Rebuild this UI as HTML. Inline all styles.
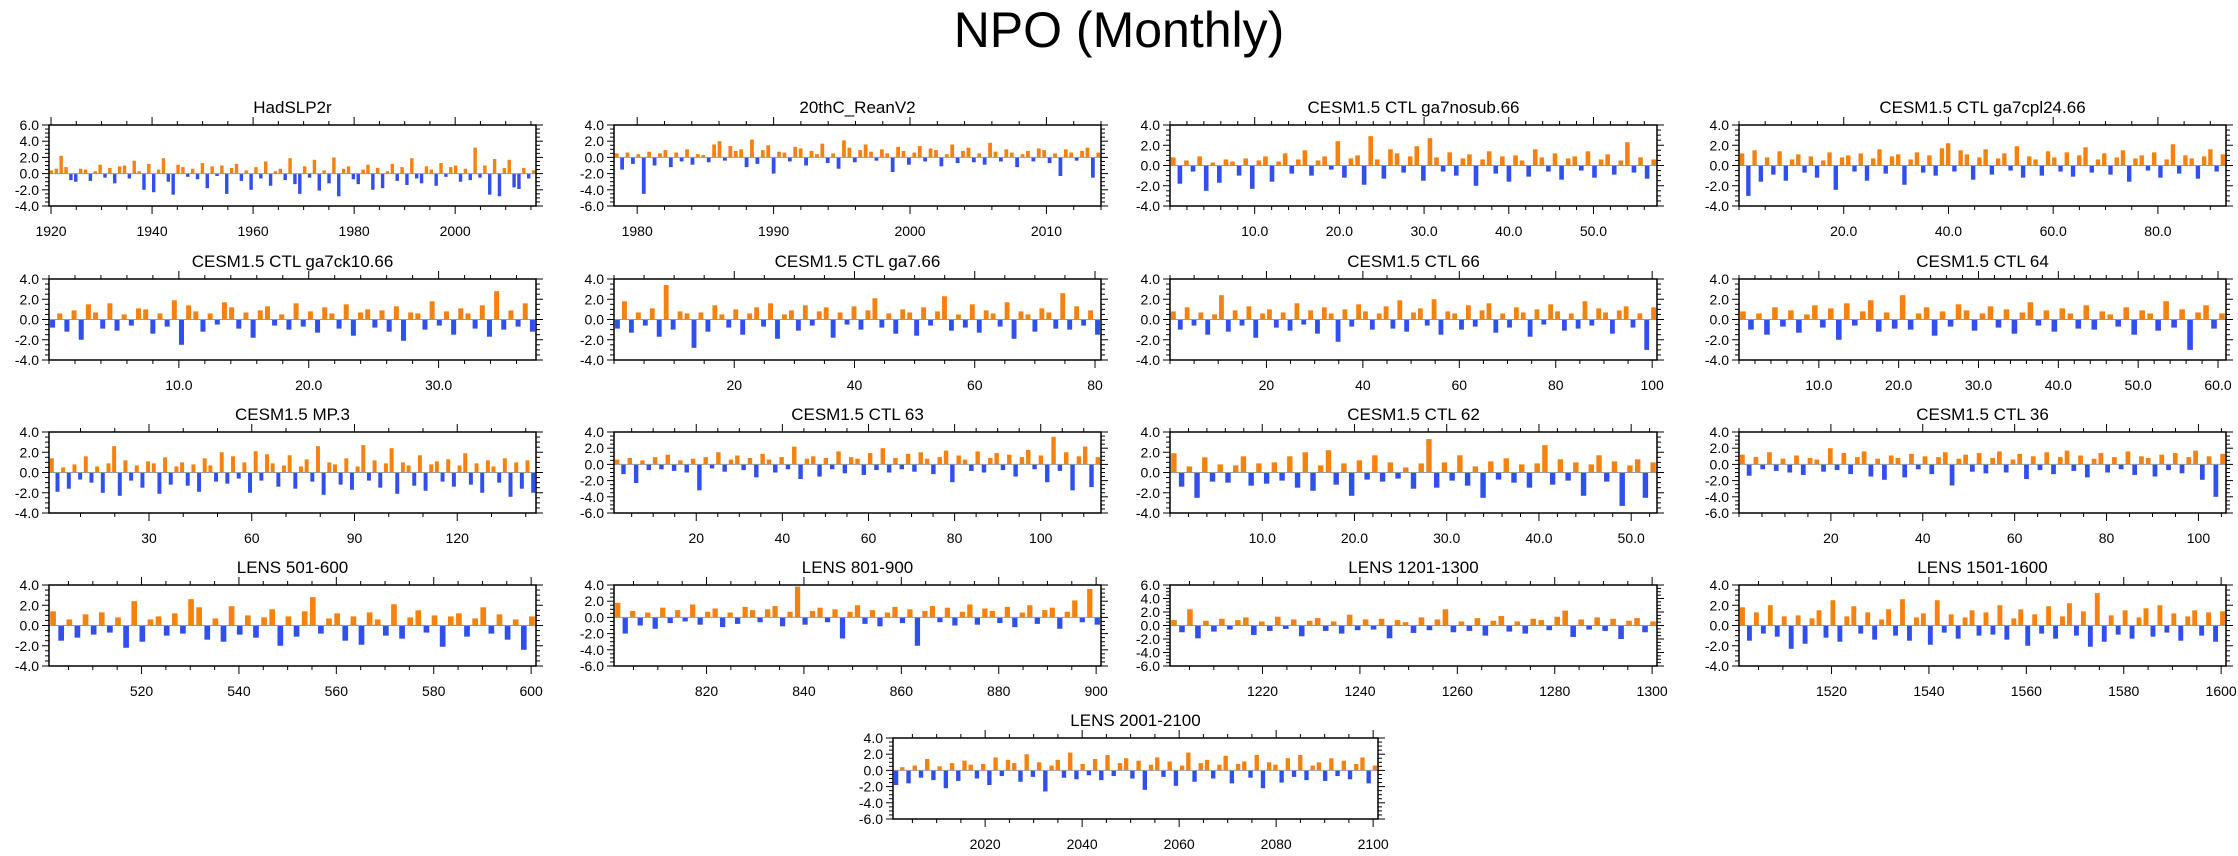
<!DOCTYPE html>
<html>
<head>
<meta charset="utf-8">
<style>
html,body{margin:0;padding:0;background:#fff;}
svg{display:block;font-family:"Liberation Sans",Arial,sans-serif;}
</style>
</head>
<body>
<svg id="chart" width="2238" height="856" viewBox="0 0 2238 856" xmlns="http://www.w3.org/2000/svg">
<text x="1119" y="47" text-anchor="middle" font-size="50">NPO (Monthly)</text>
<g id="panels"></g>
</svg>
<script>
// ---- data arrays (estimated monthly NPO index samples, read by eye) ----
const hadslp2r = [0.4,0.6,2.2,0.8,-0.8,-1.0,0.6,0.5,-0.9,0.3,1.1,-0.5,0.7,-1.2,0.9,1.0,-0.6,1.6,0.3,-2.0,1.2,-2.3,0.5,1.9,-1.0,-2.6,1.1,0.8,-0.4,0.6,-0.7,1.3,-1.8,0.9,-0.3,1.0,-2.5,0.7,1.2,-0.9,0.4,-2.0,0.8,-0.6,1.5,-1.5,0.3,0.6,-0.8,1.9,-1.3,-2.5,0.9,-0.5,1.7,-2.1,0.4,-1.2,2.0,-2.8,0.6,0.9,-0.7,-1.3,0.5,1.1,-2.0,0.7,-1.8,0.3,1.2,-0.9,0.8,-1.4,1.9,-0.6,-1.2,0.9,0.5,-1.5,1.3,-0.4,0.8,1.0,-1.0,0.6,-0.8,3.2,-0.5,1.0,-2.6,1.8,-2.8,0.7,1.7,-1.7,-1.9,0.7,-0.6,0.4];
const reanv2 = [0.5,-1.5,0.6,-0.8,0.4,-4.5,0.7,-1.0,0.5,0.9,-1.2,0.6,-0.5,1.0,-0.9,0.4,0.3,-0.6,1.6,2.0,-0.4,1.4,0.8,1.0,-1.2,2.2,-0.8,0.9,1.5,-2.0,0.7,0.6,-0.5,1.3,1.1,-1.0,0.8,0.4,1.7,-0.7,0.5,-1.4,2.1,1.2,-0.6,0.9,1.6,0.7,-0.4,1.0,0.5,-1.8,1.3,0.8,-0.9,0.6,1.4,-0.5,1.1,0.9,-1.1,0.4,1.6,-0.7,0.8,1.2,-0.6,0.5,-0.9,1.8,0.7,-0.5,1.0,0.6,-1.2,0.4,0.8,-0.5,1.1,0.9,-0.7,0.5,-2.3,1.0,0.6,-0.4,0.8,1.2,-2.5,0.6];
const ga7nosub = [0.8,-1.8,0.5,-0.6,0.9,-2.5,0.3,-1.7,0.6,0.4,-1.0,0.7,-2.3,0.5,0.9,-1.6,0.4,1.2,-0.8,0.6,1.5,-1.0,0.5,0.9,-0.4,2.4,-1.2,0.7,1.0,-1.9,2.9,0.6,-1.3,1.6,1.2,-0.7,0.9,1.9,-1.5,2.7,0.8,-0.6,1.3,-1.0,0.7,1.1,-2.0,0.6,1.4,-0.8,0.9,-1.6,1.0,0.5,-1.1,1.6,0.8,-0.6,1.2,-1.4,0.7,0.9,-0.5,1.4,-1.2,0.6,1.1,-0.9,0.5,2.3,-0.7,0.8,-1.3,0.6];
const ga7cpl24 = [1.2,-3.0,1.5,-1.6,0.8,-0.9,1.4,-1.5,0.6,1.1,-0.7,0.9,-1.2,0.5,1.3,-2.4,0.8,1.0,-0.6,1.2,-1.5,0.7,1.6,-0.8,0.9,1.1,-1.9,0.6,1.3,-0.7,1.0,-1.0,1.7,2.2,-0.6,1.5,1.1,-1.4,0.8,1.6,-0.9,0.7,1.2,-0.5,1.9,-1.2,0.9,0.6,-1.0,1.4,0.8,-0.6,1.3,-1.1,1.0,1.8,-0.7,0.6,1.2,-0.9,0.8,1.5,-1.6,0.7,1.0,-0.5,1.3,-1.2,0.6,2.1,-0.8,1.0,0.7,-1.3,0.9,1.6,-0.6,1.1];
const ga7ck10 = [-0.8,0.6,-1.2,0.9,-2.0,1.5,0.7,-0.9,1.6,-1.1,0.5,-0.6,1.1,1.0,-1.4,0.6,-0.7,1.9,-2.5,1.4,0.8,-1.2,0.6,-0.5,1.7,1.2,-0.9,0.7,-1.8,0.9,1.3,-0.6,0.5,-1.0,1.6,-0.7,0.8,-1.3,1.2,0.6,-0.9,1.5,-1.6,0.7,1.0,-0.8,0.9,-1.2,1.3,-2.1,0.7,0.6,-1.0,1.8,-0.6,0.8,-1.5,1.1,0.6,-0.9,1.4,-1.7,2.8,-1.0,0.9,-0.7,1.6,-1.2];
const ga7_66 = [-0.9,1.8,-1.3,0.7,-0.6,1.1,-1.7,3.4,-1.0,0.8,0.6,-2.8,0.7,-1.2,1.4,0.5,-0.8,1.0,-1.5,0.6,1.2,-0.7,1.6,-1.9,0.5,0.9,-1.1,1.4,-0.6,0.8,1.2,-1.8,0.7,-0.5,1.3,-1.0,0.9,2.1,-0.8,0.6,-1.4,1.0,0.7,-1.6,1.2,-0.6,0.8,2.3,-1.1,0.5,-0.8,1.5,-1.3,0.9,0.6,-0.7,1.7,-1.9,0.8,0.5,-1.2,1.1,0.7,-0.9,2.6,-1.0,1.3,-0.6,0.9,-1.5];
const ctl66 = [0.8,-1.0,1.2,-0.6,0.7,-1.5,0.5,2.4,-1.2,0.9,-0.6,1.3,-1.8,0.6,1.0,-0.8,0.7,-1.1,1.6,-0.5,0.9,-1.4,1.2,0.6,-2.2,1.0,-0.7,1.5,0.8,-1.0,0.6,1.3,-0.9,1.9,-1.2,0.7,1.1,-0.6,2.0,-1.5,0.8,0.6,-1.0,1.4,-0.7,0.9,1.6,-1.3,0.6,-0.8,1.2,0.7,-1.7,1.0,-0.5,1.5,0.8,-1.1,0.6,-0.9,1.8,-0.6,1.1,0.7,-1.4,0.9,1.3,-0.8,0.6,-3.0,1.2];
const ctl64 = [0.8,-1.0,0.6,-1.5,1.2,-0.7,0.9,-1.3,0.5,1.4,-0.8,1.1,-2.0,1.6,-0.6,0.8,1.9,-1.2,0.7,-0.9,2.4,-1.0,0.6,1.2,-1.6,0.8,-0.7,1.5,0.9,-1.1,0.6,1.3,-0.8,1.0,-1.4,0.7,1.7,-0.6,0.9,-1.2,1.1,0.6,-0.9,1.4,-1.0,0.8,0.5,-0.7,1.2,-1.5,0.9,0.6,-1.1,1.8,-0.8,1.0,-3.0,0.7,1.4,-0.9,0.6];
const mp3 = [1.4,-1.9,0.5,-1.6,0.8,-0.7,1.6,-1.0,0.6,-2.0,0.9,2.6,-2.3,1.2,-0.8,0.7,-1.5,1.1,0.9,-2.1,1.5,-1.2,0.6,1.0,-1.3,0.8,-1.9,1.4,0.7,-0.9,2.0,-1.1,1.6,-0.6,1.0,-2.0,2.1,-0.8,1.8,0.9,-1.4,0.7,1.7,-1.6,0.6,1.3,-0.9,2.6,-2.2,1.0,0.8,-1.2,1.4,-1.7,0.6,2.7,-0.8,1.2,-1.5,0.9,2.4,-2.1,1.0,0.7,-1.3,1.7,-1.8,0.8,1.1,-0.9,1.3,-1.4,0.7,1.9,-1.2,0.9,-2.0,1.2,0.6,-1.0,1.4,-2.4,1.0,-1.6,1.2,-2.0];
const ctl63 = [0.6,-1.2,0.8,-2.3,0.5,-0.7,0.9,-0.6,1.2,-0.8,0.5,-1.0,0.7,-3.2,0.9,-0.5,1.5,-0.9,0.6,1.1,-0.7,0.8,-1.6,1.3,0.6,-1.0,0.9,-0.6,2.2,-1.8,0.7,1.0,-1.5,0.8,-0.6,1.6,-1.1,0.9,0.7,-1.3,1.4,-0.7,2.0,-1.0,0.8,-0.6,1.3,-0.9,1.5,0.7,-1.2,0.9,1.7,-2.2,1.1,0.6,-0.8,1.6,-1.0,0.8,1.4,-0.7,1.2,-1.5,0.9,1.8,-0.6,1.1,-2.2,3.4,-0.8,1.5,-3.2,1.0,2.2,-2.8,0.9];
const ctl62 = [1.9,-1.4,0.6,-2.5,1.5,-0.9,0.8,-1.0,0.7,1.6,-1.3,0.9,-1.1,1.0,-0.8,1.6,-1.5,2.0,-1.8,0.7,2.2,-1.2,0.9,-2.3,1.2,-0.7,1.7,-0.9,1.0,-0.6,0.5,-1.6,0.9,3.3,-1.5,1.0,-0.8,1.7,-1.3,0.6,-2.5,1.1,-0.7,1.4,-1.0,0.8,-1.5,0.9,2.7,-1.2,1.3,-0.8,1.0,-2.3,0.8,1.7,-0.9,1.1,-3.3,0.7,1.3,-2.5,1.0];
const ctl36 = [1.2,-1.4,0.9,-0.6,1.5,-0.8,0.7,-1.0,1.1,-1.3,0.8,0.6,-0.9,2.0,-0.7,1.4,-1.2,0.9,1.6,-1.5,0.7,-1.9,1.1,0.8,-1.6,1.3,-0.6,1.0,-1.2,0.9,1.5,-2.6,0.7,1.2,-0.9,1.4,-1.1,0.8,1.6,-1.0,0.6,1.3,-1.8,1.0,-0.7,1.5,-1.2,0.9,1.7,-0.8,1.1,-1.6,0.7,1.4,-1.0,0.9,-0.6,1.6,-1.3,1.0,0.8,-1.5,1.2,-0.7,1.4,-1.1,0.9,1.7,-1.9,1.0,-4.0,1.3];
const lens501 = [1.4,-1.5,0.6,-1.2,1.1,-0.9,1.3,-0.7,0.8,-2.2,2.4,-1.6,0.6,0.9,-1.0,1.2,-0.8,2.6,1.8,-1.4,0.7,-1.6,1.9,-0.9,1.0,-1.2,0.8,1.6,-2.0,0.9,-1.1,1.4,2.8,-0.8,0.7,1.2,-1.5,0.9,-1.9,1.3,0.6,-1.0,2.1,-1.3,0.8,1.5,-0.7,1.0,-2.1,0.9,1.2,-1.1,0.7,1.8,-0.8,1.1,-1.4,0.6,-2.4,0.9];
const lens801 = [1.8,-2.0,0.8,-1.0,0.6,-1.4,1.2,-0.7,0.9,-0.5,1.6,-0.9,0.7,1.1,-1.2,0.6,-0.8,1.3,0.9,-0.6,1.0,1.4,-1.1,0.7,3.8,-0.9,0.8,1.2,-0.6,1.0,-2.6,0.7,1.5,-0.8,0.9,-1.1,0.6,1.3,-0.7,1.0,-3.5,0.8,1.4,-0.6,1.2,-1.0,0.7,1.6,-0.9,1.1,0.8,-0.7,1.3,-1.2,0.6,1.5,-0.8,0.9,1.2,-1.4,0.7,2.1,-0.6,3.5,-0.9];
const lens1201 = [0.8,-1.0,2.4,-1.9,0.7,-0.9,1.0,-0.6,0.8,1.2,-1.4,0.6,-0.8,1.3,-0.5,0.9,-1.6,0.7,1.1,-0.8,0.6,-1.2,1.6,-0.7,0.9,-0.6,1.0,-1.9,0.8,0.5,-1.1,1.2,-0.7,0.9,2.4,-1.0,0.6,-0.8,1.1,-1.5,0.7,1.4,-0.9,0.6,-1.2,1.0,0.8,-0.7,1.3,2.2,-1.7,0.9,-0.6,1.2,-0.8,1.0,-2.0,0.7,1.1,-1.0,0.6];
const lens1501 = [1.8,-1.5,1.3,-0.8,2.0,-1.1,0.9,-2.3,1.0,-1.8,0.7,1.5,-1.2,2.5,-1.6,0.9,1.9,-0.8,1.3,-1.4,0.6,1.6,-1.0,2.6,-1.5,0.8,1.2,-1.9,2.5,-0.7,1.1,-1.3,0.8,1.5,-1.0,1.3,-0.9,2.0,-1.4,0.7,1.6,-2.0,1.1,-0.8,1.9,-1.3,0.9,2.2,-1.0,1.4,-2.1,3.2,-1.6,1.0,-0.9,1.5,-1.3,0.8,1.7,-1.1,2.0,-0.7,1.2,-1.5,0.9,1.5,-1.0,1.3,-1.6,1.4];
const lens2001 = [-1.8,0.4,-1.6,0.6,-0.9,1.4,-1.2,0.5,-2.2,0.9,-1.3,1.2,0.7,-1.0,0.8,-1.8,1.6,-0.7,1.3,0.9,-1.4,2.0,-0.8,1.0,-2.6,0.6,1.3,-0.9,2.2,-1.1,0.8,-0.6,1.4,-1.2,1.9,-0.7,0.9,1.5,-1.0,1.2,-2.4,0.7,1.6,-0.8,1.1,-1.9,0.6,2.2,-1.4,0.9,1.3,-1.0,0.7,1.8,-1.6,0.8,1.1,-0.9,1.9,-2.2,1.0,0.7,-1.5,1.5,-0.8,1.9,-1.2,0.6,1.0,-1.3,1.5,-0.7,1.2,-1.1,0.8,1.6,-1.6,0.6];

// ---- tick label arrays ----
const yTicks_m4p6 = ["-4.0","-2.0","0.0","2.0","4.0","6.0"];
const yTicks_m6p4 = ["-6.0","-4.0","-2.0","0.0","2.0","4.0"];
const yTicks_m4p4 = ["-4.0","-2.0","0.0","2.0","4.0"];
const yTicks_m6p6 = ["-6.0","-4.0","-2.0","0.0","2.0","4.0","6.0"];

const panelTitles = ["HadSLP2r","20thC_ReanV2","CESM1.5 CTL ga7nosub.66","CESM1.5 CTL ga7cpl24.66","CESM1.5 CTL ga7ck10.66","CESM1.5 CTL ga7.66","CESM1.5 CTL 66","CESM1.5 CTL 64","CESM1.5 MP.3","CESM1.5 CTL 63","CESM1.5 CTL 62","CESM1.5 CTL 36","LENS 501-600","LENS 801-900","LENS 1201-1300","LENS 1501-1600","LENS 2001-2100"];
const panelSeries = [hadslp2r,reanv2,ga7nosub,ga7cpl24,ga7ck10,ga7_66,ctl66,ctl64,mp3,ctl63,ctl62,ctl36,lens501,lens801,lens1201,lens1501,lens2001];
const panelYTicks = [yTicks_m4p6,yTicks_m6p4,yTicks_m4p4,yTicks_m4p4,yTicks_m4p4,yTicks_m4p4,yTicks_m4p4,yTicks_m4p4,yTicks_m4p4,yTicks_m6p4,yTicks_m4p4,yTicks_m6p4,yTicks_m4p4,yTicks_m6p4,yTicks_m6p6,yTicks_m4p4,yTicks_m6p4];
const panelXMin = [1919.6,1978.3,0,0,0,0,0,0,0.8,0.9,0,0,501,801,1201,1501,2001];
const panelXMax = [2016,2014,57.5,93,37.5,81,101,61,143,114,52.8,106,601,901,1301,1601,2101];
const panelXTicks = [
 ["1920","1940","1960","1980","2000"],
 ["1980","1990","2000","2010"],
 ["10.0","20.0","30.0","40.0","50.0"],
 ["20.0","40.0","60.0","80.0"],
 ["10.0","20.0","30.0"],
 ["20","40","60","80"],
 ["20","40","60","80","100"],
 ["10.0","20.0","30.0","40.0","50.0","60.0"],
 ["30","60","90","120"],
 ["20","40","60","80","100"],
 ["10.0","20.0","30.0","40.0","50.0"],
 ["20","40","60","80","100"],
 ["520","540","560","580","600"],
 ["820","840","860","880","900"],
 ["1220","1240","1260","1280","1300"],
 ["1520","1540","1560","1580","1600"],
 ["2020","2040","2060","2080","2100"]
];
const panelXMinor = [5,2,2,5,2,5,5,2,10,5,2,5,5,5,5,5,5];

// ---- layout ----
const NS = "http://www.w3.org/2000/svg";
const colLeft = [49,614,1170,1739];
const rowTop = [125,279,432,585,738];
const PW = 487, PH = 81;
const ORANGE = "#f5820f", BLUE = "#2f4ff0";
const root = document.getElementById("panels");

function mk(tag, attrs, parent){
  const e = document.createElementNS(NS, tag);
  for (const k in attrs) e.setAttribute(k, attrs[k]);
  parent.appendChild(e);
  return e;
}

panelTitles.forEach((title, p) => {
  const left = p < 16 ? colLeft[p % 4] : 893;
  const top = rowTop[Math.floor(p / 4)];
  const w = p < 16 ? PW : 485;
  const yt = panelYTicks[p];
  const ymin = parseFloat(yt[0]), ymax = parseFloat(yt[yt.length - 1]);
  const xmin = panelXMin[p], xmax = panelXMax[p];
  const sx = v => left + (v - xmin) / (xmax - xmin) * w;
  const sy = v => top + (ymax - v) / (ymax - ymin) * PH;

  const g = mk("g", {}, root);
  
  

  const t = mk("text", {x: left + w / 2, y: top - 12, "text-anchor": "middle", "font-size": 17}, g);
  t.textContent = title;
  
  

  // bars
  const data = panelSeries[p];
  const n = data.length;
  const step = (xmax - xmin) / n;
  const bw = w / n * 0.7;
  const bars = mk("g", {}, g);
  
  
  data.forEach((v, i) => {
    const xv = xmin + step * (i + 0.5);
    const y0 = sy(0), y1 = sy(v);
    const r = mk("rect", {x: sx(xv) - bw / 2, y: Math.min(y0, y1), width: bw, height: Math.abs(y1 - y0), fill: v >= 0 ? ORANGE : BLUE}, bars);
    
    
  });
  // zero line
  const zl = mk("line", {x1: left, x2: left + w, y1: sy(0), y2: sy(0), stroke: "#999", "stroke-width": 1}, g);
  
  

  // frame
  const fr = mk("rect", {x: left, y: top, width: w, height: PH, fill: "none", stroke: "#000", "stroke-width": 1.5}, g);
  
  

  // y ticks (left & right)
  const ax = mk("g", {stroke: "#000", "stroke-width": 1}, g);
  
  
  for (let v = ymin; v <= ymax + 1e-6; v += 0.5) {
    const major = Math.abs(v / 2 - Math.round(v / 2)) < 1e-6;
    const len = major ? 7 : 4;
    mk("line", {x1: left, x2: left - len, y1: sy(v), y2: sy(v)}, ax);
    mk("line", {x1: left + w, x2: left + w + len, y1: sy(v), y2: sy(v)}, ax);
  }
  yt.forEach(lbl => {
    const ty = mk("text", {x: left - 10, y: sy(parseFloat(lbl)) + 5, "text-anchor": "end", "font-size": 14}, g);
    ty.textContent = lbl;
    
    
  });
  // x ticks (bottom & top)
  const mstep = panelXMinor[p];
  for (let v = Math.ceil(xmin / mstep) * mstep; v <= xmax; v += mstep) {
    const major = panelXTicks[p].some(l => Math.abs(parseFloat(l) - v) < 1e-6);
    const len = major ? 8 : 4;
    mk("line", {x1: sx(v), x2: sx(v), y1: top + PH, y2: top + PH + len}, ax);
    mk("line", {x1: sx(v), x2: sx(v), y1: top, y2: top - len}, ax);
  }
  panelXTicks[p].forEach(lbl => {
    const tx = mk("text", {x: sx(parseFloat(lbl)), y: top + PH + 30, "text-anchor": "middle", "font-size": 14}, g);
    tx.textContent = lbl;
    
    
  });
});
</script>
</body>
</html>
